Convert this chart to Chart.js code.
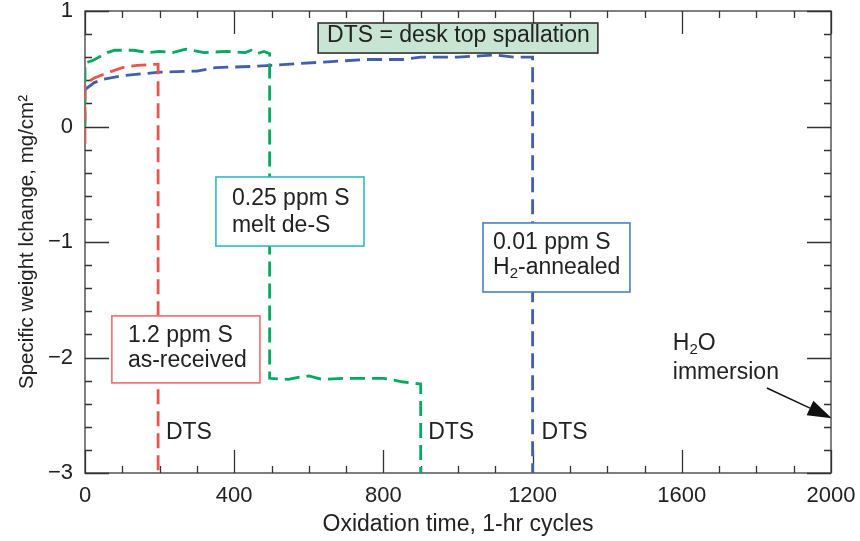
<!DOCTYPE html>
<html>
<head>
<meta charset="utf-8">
<script src="https://cdn.jsdelivr.net/npm/chart.js@4.4.1/dist/chart.umd.min.js"></script>
<style>
  html, body { margin: 0; padding: 0; background: #fff; }
</style>
</head>
<body>
<canvas id="chart" width="860" height="541"></canvas>
<script>
const xTicks = [0, 400, 800, 1200, 1600, 2000];
const yTicks = [-3, -2, -1, 0, 1];

// 1.2 ppm S, as-received
const redX = [0, 0, 25, 65, 100, 140, 196, 196];
const redY = [-0.15, 0.37, 0.42, 0.47, 0.51, 0.53, 0.54, -3];

// 0.25 ppm S, melt de-S
const greenX = [0, 0, 20, 60, 80, 130, 170, 200, 235, 270, 320, 380, 430, 445, 460, 480, 495,
    495, 545, 575, 600, 635, 700, 745, 800, 850, 900, 900];
const greenY = [0, 0.55, 0.57, 0.64, 0.66, 0.66, 0.64, 0.65, 0.64, 0.67, 0.64, 0.65, 0.64, 0.66, 0.63, 0.65, 0.63,
    -2.18, -2.19, -2.17, -2.16, -2.19, -2.18, -2.18, -2.18, -2.21, -2.23, -3];

// 0.01 ppm S, H2-annealed
const blueX = [0, 25, 50, 100, 200, 300, 350, 450, 500, 550, 650, 750, 850, 900, 1000, 1100, 1150, 1200, 1200];
const blueY = [0.32, 0.38, 0.41, 0.44, 0.47, 0.48, 0.51, 0.52, 0.53, 0.54, 0.56, 0.58, 0.58, 0.6, 0.6, 0.62, 0.6, 0.6, -3];

const toPoints = (xs, ys) => xs.map((x, i) => ({ x: x, y: ys[i] }));

const textColor = '#222';
const font = '"Liberation Sans", Arial, sans-serif';

// draws text where parts may be subscripts, e.g. H2O
function drawRich(ctx, parts, x, y) {
    let cx = x;
    parts.forEach((p) => {
        ctx.font = (p.sub ? '15px ' : '23px ') + font;
        ctx.fillText(p.t, cx, y + (p.sub ? 6 : 0));
        cx += ctx.measureText(p.t).width;
    });
}

// label boxes, in data units
const boxes = [
    { x0: 625, x1: 1375, y0: 0.896, y1: 0.636, fill: 'rgb(200,228,210)', stroke: '#333',
      lines: [[{ t: 'DTS = desk top spallation' }]], tx: 649, ty: [0.784] },
    { x0: 351, x1: 748, y0: -0.437, y1: -1.035, fill: '#fff', stroke: 'rgb(50,185,200)',
      lines: [[{ t: '0.25 ppm S' }], [{ t: 'melt de-S' }]], tx: 394, ty: [-0.628, -0.861] },
    { x0: 1067, x1: 1461, y0: -0.835, y1: -1.433, fill: '#fff', stroke: 'rgb(70,130,195)',
      lines: [[{ t: '0.01 ppm S' }], [{ t: 'H' }, { t: '2', sub: true }, { t: '-annealed' }]], tx: 1094, ty: [-1.009, -1.225] },
    { x0: 72, x1: 469, y0: -1.64, y1: -2.22, fill: '#fff', stroke: 'rgb(235,110,110)',
      lines: [[{ t: '1.2 ppm S' }], [{ t: 'as-received' }]], tx: 115, ty: [-1.814, -2.03] },
];

const labels = [
    { x: 217, y: -2.654, parts: [{ t: 'DTS' }] },
    { x: 920, y: -2.654, parts: [{ t: 'DTS' }] },
    { x: 1224, y: -2.654, parts: [{ t: 'DTS' }] },
    { x: 1576, y: -1.883, parts: [{ t: 'H' }, { t: '2', sub: true }, { t: 'O' }] },
    { x: 1576, y: -2.13, parts: [{ t: 'immersion' }] },
];

const arrowFrom = [1828, -2.264];
const arrowTo = [2002, -2.526];

const framePlugin = {
    id: 'frame',
    beforeDatasetsDraw(chart) {
        const ctx = chart.ctx;
        const { left, right, top, bottom } = chart.chartArea;
        const xs = chart.scales.x;
        const ys = chart.scales.y;
        ctx.save();
        ctx.strokeStyle = '#555';
        ctx.lineWidth = 1.5;
        ctx.strokeRect(left, top, right - left, bottom - top);
        ctx.strokeStyle = '#333';
        ctx.lineWidth = 1.3;
        ctx.beginPath();
        for (let v = 0; v <= 2000; v += 100) {
            const px = Math.round(xs.getPixelForValue(v)) + 0.5;
            const len = v % 400 === 0 ? 23 : 7;
            ctx.moveTo(px, bottom);
            ctx.lineTo(px, bottom - len);
            ctx.moveTo(px, top);
            ctx.lineTo(px, top + len);
        }
        for (let i = -15; i <= 5; i++) {
            const py = Math.round(ys.getPixelForValue(i / 5)) + 0.5;
            const len = i % 5 === 0 ? 24 : 7;
            ctx.moveTo(left, py);
            ctx.lineTo(left + len, py);
            ctx.moveTo(right, py);
            ctx.lineTo(right - len, py);
        }
        ctx.stroke();
        ctx.restore();
    },
    afterDatasetsDraw(chart) {
        const ctx = chart.ctx;
        const xs = chart.scales.x;
        const ys = chart.scales.y;
        const X = (v) => xs.getPixelForValue(v);
        const Y = (v) => ys.getPixelForValue(v);
        ctx.save();
        ctx.textBaseline = 'middle';
        ctx.textAlign = 'left';
        boxes.forEach((b) => {
            const x0 = X(b.x0), x1 = X(b.x1), y0 = Y(b.y0), y1 = Y(b.y1);
            ctx.fillStyle = b.fill;
            ctx.fillRect(x0, y0, x1 - x0, y1 - y0);
            ctx.strokeStyle = b.stroke;
            ctx.lineWidth = 1.6;
            ctx.strokeRect(x0, y0, x1 - x0, y1 - y0);
            ctx.fillStyle = textColor;
            b.lines.forEach((parts, i) => drawRich(ctx, parts, X(b.tx), Y(b.ty[i])));
        });
        ctx.fillStyle = textColor;
        labels.forEach((l) => drawRich(ctx, l.parts, X(l.x), Y(l.y)));

        // arrow to the H2O immersion point
        const ax = X(arrowFrom[0]), ay = Y(arrowFrom[1]);
        const bx = X(arrowTo[0]), by = Y(arrowTo[1]);
        const ang = Math.atan2(by - ay, bx - ax);
        const headLen = 24, headW = 8;
        ctx.strokeStyle = '#111';
        ctx.lineWidth = 1.4;
        ctx.beginPath();
        ctx.moveTo(ax, ay);
        ctx.lineTo(bx - headLen * Math.cos(ang), by - headLen * Math.sin(ang));
        ctx.stroke();
        ctx.fillStyle = '#111';
        ctx.beginPath();
        ctx.moveTo(bx, by);
        ctx.lineTo(bx - headLen * Math.cos(ang) + headW * Math.sin(ang), by - headLen * Math.sin(ang) - headW * Math.cos(ang));
        ctx.lineTo(bx - headLen * Math.cos(ang) - headW * Math.sin(ang), by - headLen * Math.sin(ang) + headW * Math.cos(ang));
        ctx.closePath();
        ctx.fill();
        ctx.restore();
    },
};

const lineStyle = {
    fill: false,
    borderWidth: 2.8,
    borderDash: [15, 7],
    pointRadius: 0,
    tension: 0,
};

new Chart(document.getElementById('chart'), {
    type: 'line',
    data: {
        datasets: [
            { ...lineStyle, label: '1.2 ppm S', data: toPoints(redX, redY), borderColor: 'rgb(235,85,80)' },
            { ...lineStyle, label: '0.25 ppm S', data: toPoints(greenX, greenY), borderColor: 'rgb(0,170,95)' },
            { ...lineStyle, label: '0.01 ppm S', data: toPoints(blueX, blueY), borderColor: 'rgb(65,95,175)' },
        ],
    },
    options: {
        responsive: false,
        animation: false,
        devicePixelRatio: 1,
        layout: { padding: { top: 11, right: 29, left: 0, bottom: 0 } },
        plugins: { legend: { display: false }, tooltip: { enabled: false } },
        scales: {
            x: {
                type: 'linear',
                min: 0,
                max: 2000,
                afterBuildTicks: (s) => { s.ticks = xTicks.map((v) => ({ value: v })); },
                afterFit: (s) => {
                    s.height = 68;
                    s.paddingLeft = 0;
                    s.paddingRight = 0;
                },
                grid: { display: false, drawTicks: false },
                border: { display: false },
                ticks: {
                    color: textColor,
                    padding: 10,
                    maxRotation: 0,
                    font: { family: font, size: 22 },
                    callback: (v) => String(v),
                },
                title: {
                    display: true,
                    text: 'Oxidation time, 1-hr cycles',
                    color: textColor,
                    font: { family: font, size: 23 },
                    padding: { top: 0, bottom: 3 },
                },
            },
            y: {
                type: 'linear',
                min: -3,
                max: 1,
                afterBuildTicks: (s) => { s.ticks = yTicks.map((v) => ({ value: v })); },
                afterFit: (s) => {
                    s.width = 85;
                    s.paddingTop = 0;
                    s.paddingBottom = 0;
                },
                grid: { display: false, drawTicks: false },
                border: { display: false },
                ticks: {
                    color: textColor,
                    padding: 12,
                    font: { family: font, size: 22 },
                    callback: (v) => (v < 0 ? '\u2212' + Math.abs(v) : String(v)),
                },
                title: {
                    display: true,
                    text: 'Specific weight lchange, mg/cm\u00b2',
                    color: textColor,
                    font: { family: font, size: 20.5 },
                    padding: { top: 15, bottom: 0 },
                },
            },
        },
    },
    plugins: [framePlugin],
});
</script>
</body>
</html>
